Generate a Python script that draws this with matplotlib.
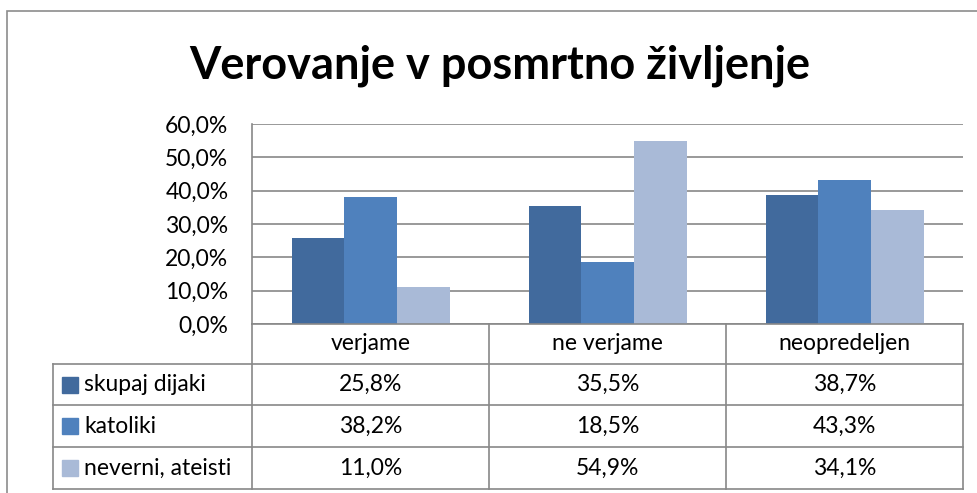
import matplotlib.pyplot as plt
from matplotlib.patches import Rectangle
from matplotlib.lines import Line2D

plt.rcParams['font.family'] = ['Lato', 'DejaVu Sans']

categories = ["verjame", "ne verjame", "neopredeljen"]
series = ["skupaj dijaki", "katoliki", "neverni, ateisti"]
skupaj = [25.8, 35.5, 38.7]
katoliki = [38.2, 18.5, 43.3]
neverni = [11.0, 54.9, 34.1]
values = [skupaj, katoliki, neverni]
colors = ["#416A9D", "#4F81BD", "#A9BAD7"]
yticks = [0, 10, 20, 30, 40, 50, 60]

W, H = 978, 493
fig = plt.figure(figsize=(W / 100, H / 100), dpi=100)
grid_c = "#888888"
fs = 16.5

# chart border
fig.add_artist(Rectangle((7 / W, -0.1), 1.1, (H - 11) / H + 0.1, transform=fig.transFigure,
                         fill=False, ec="#8c8c8c", lw=1.2))

fig.text(500 / W, 1 - 66 / H, "Verovanje v posmrtno življenje", ha="center", va="center",
         fontsize=32.5, fontweight="bold")

# bar axes
x0, x1 = 252, 963
ax = fig.add_axes([x0 / W, 1 - 324 / H, (x1 - x0) / W, 200 / H])
bw = 2 / 9
for i, (vals, c) in enumerate(zip(values, colors)):
    ax.bar([k + (i - 1) * bw for k in range(3)], vals, width=bw, color=c, zorder=3)
ax.set_xlim(-0.5, 2.5)
ax.set_ylim(0, 60)
ax.set_yticks(yticks)
ax.set_yticklabels([f"{v:.1f}%".replace(".", ",") for v in yticks], fontsize=fs)
ax.tick_params(axis="y", length=0, pad=17)
ax.set_xticks([])
ax.grid(axis="y", color=grid_c, lw=1.2, zorder=0)
for s in ["top", "right", "bottom"]:
    ax.spines[s].set_visible(False)
ax.spines["left"].set_color(grid_c)
ax.spines["left"].set_linewidth(1.2)

# data table
tl = 53
unit = (x1 - x0) / 3
left_u = -0.5 - (x0 - tl) / unit
tax = fig.add_axes([tl / W, 1 - 489 / H, (x1 - tl) / W, 165 / H])
tax.set_xlim(left_u, 2.5)
tax.set_ylim(3.95, 0)
tax.axis("off")
lk = dict(color=grid_c, lw=1.2, clip_on=False)
row_h = [0, 0.95, 1.95, 2.95, 3.95]
tax.add_line(Line2D([-0.5, 2.5], [0, 0], **lk))
for y in row_h[1:]:
    tax.add_line(Line2D([left_u, 2.5], [y, y], **lk))
for x in [-0.5, 0.5, 1.5, 2.5]:
    tax.add_line(Line2D([x, x], [0, row_h[-1]], **lk))
tax.add_line(Line2D([left_u, left_u], [row_h[1], row_h[-1]], **lk))

for k, cat in enumerate(categories):
    tax.text(k, row_h[0] + 0.47, cat, ha="center", va="center", fontsize=fs)
for i, (name, vals, c) in enumerate(zip(series, values, colors)):
    yc = (row_h[i + 1] + row_h[i + 2]) / 2
    sq = 16 / unit
    tax.add_patch(Rectangle((left_u + 9 / unit, yc - 0.19), sq, 0.38, color=c, clip_on=False))
    tax.text(left_u + 31 / unit, yc, name, ha="left", va="center", fontsize=fs)
    for k, v in enumerate(vals):
        tax.text(k, yc, f"{v:.1f}%".replace(".", ","), ha="center", va="center", fontsize=fs)

fig.savefig("out.png", dpi=100)
